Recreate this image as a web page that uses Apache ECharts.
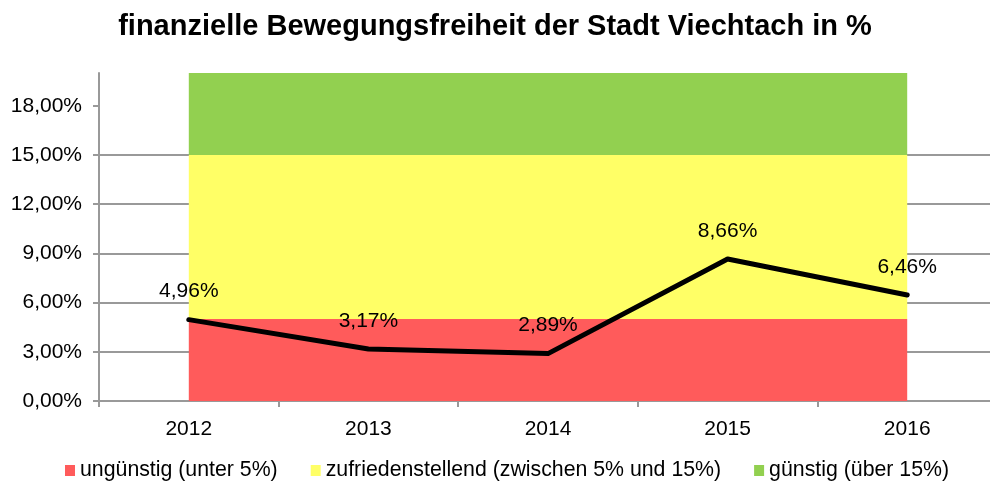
<!DOCTYPE html>
<html>
<head>
<meta charset="utf-8">
<script src="https://cdn.jsdelivr.net/npm/echarts@6/dist/echarts.min.js"></script>
<style>html,body{margin:0;padding:0;background:#fff}#c{width:990px;height:486px}</style>
</head>
<body>
<div id="c"></div>
<script>
const titleText = 'finanzielle Bewegungsfreiheit der Stadt Viechtach in %';
const categories = ['2012', '2013', '2014', '2015', '2016'];
const values = [4.96, 3.17, 2.89, 8.66, 6.46];
const bandNames = ['ungünstig (unter 5%)', 'zufriedenstellend (zwischen 5% und 15%)', 'günstig (über 15%)'];
const bandRed = [5, 5, 5, 5, 5];
const bandYellow = [10, 10, 10, 10, 10];
const bandGreen = [5, 5, 5, 5, 5];
const yTicks = [0, 3, 6, 9, 12, 15, 18];

const FONT = '"Liberation Sans", Arial, sans-serif';
const fmt = v => Number(v).toFixed(2).replace('.', ',') + '%';
const bandColors = ['#FF5B5B', '#FFFF66', '#92D050'];
const bandData = [bandRed, bandYellow, bandGreen];

const chart = echarts.init(document.getElementById('c'));
const series = bandNames.map((n, i) => ({
  name: n, type: 'line', stack: 'bands', data: bandData[i],
  symbol: 'none', lineStyle: { width: 0, opacity: 0 },
  areaStyle: { color: bandColors[i], opacity: 1 }, itemStyle: { color: bandColors[i] },
  silent: true, z: 1
}));
series.push({
  name: 'Bewegungsfreiheit', type: 'line', data: values,
  symbol: 'circle', symbolSize: 1, showSymbol: true,
  lineStyle: { color: '#000', width: 5, cap: 'round', join: 'round' }, itemStyle: { color: '#000' },
  label: { show: true, position: 'top', distance: 17, formatter: p => fmt(p.value),
    fontFamily: FONT, fontSize: 21, color: '#000' },
  labelLayout: { hideOverlap: false },
  z: 5
});

chart.setOption({
  animation: false,
  textStyle: { fontFamily: FONT },
  title: { text: titleText, left: 'center', top: 7,
    textStyle: { fontFamily: FONT, fontSize: 29, fontWeight: 'bold', color: '#000' } },
  legend: { data: bandNames, bottom: 0, left: 60, icon: 'rect', itemWidth: 10, itemHeight: 11,
    itemGap: 33, textStyle: { fontFamily: FONT, fontSize: 21.3, color: '#000' } },
  grid: { left: 99, width: 898, top: 73, bottom: 85, outerBoundsMode: 'none', containLabel: false },
  xAxis: { type: 'category', data: categories, boundaryGap: true,
    axisLine: { lineStyle: { color: '#999', width: 2 } },
    axisTick: { show: true, interval: 0, length: 6, lineStyle: { color: '#999', width: 2 } },
    axisLabel: { fontFamily: FONT, fontSize: 21, color: '#000', margin: 18 } },
  yAxis: { type: 'value', min: 0, max: 20, interval: 3,
    axisLine: { show: true, lineStyle: { color: '#999', width: 2 } },
    axisTick: { show: true, length: 6, customValues: yTicks, lineStyle: { color: '#999', width: 2 } },
    axisLabel: { fontFamily: FONT, fontSize: 21, color: '#000', margin: 17, customValues: yTicks, formatter: fmt },
    splitLine: { show: true, showMaxLine: false, lineStyle: { color: '#999', width: 2 } } },
  series: series
});
</script>
</body>
</html>
